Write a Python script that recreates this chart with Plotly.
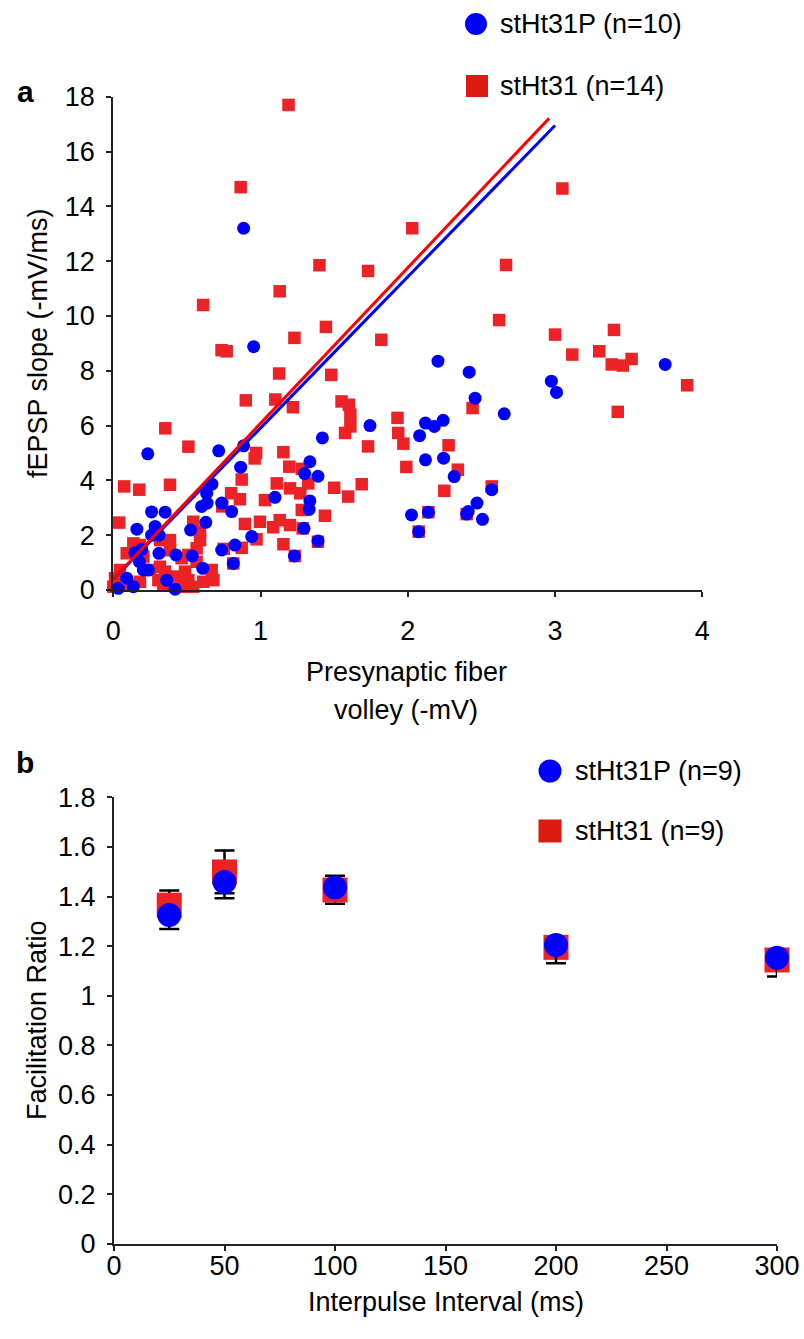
import plotly.graph_objects as go

# ---------------- Panel a data ----------------
red_pts = [(1.19,17.7),(0.865,14.7),(0.61,10.4),(0.735,8.75),(0.77,8.71),(1.13,10.9),(1.23,9.2),
(1.126,7.9),(0.90,6.92),(1.10,6.95),(1.22,6.67),(0.353,5.9),(0.51,5.23),(0.96,4.8),(0.97,5.0),
(1.155,5.03),(1.195,4.5),(1.28,4.42),(0.074,3.78),(0.176,3.66),(0.385,3.84),(0.872,4.03),(0.80,3.53),
(0.86,3.31),(0.74,3.05),(1.03,3.28),(1.11,3.89),(1.20,3.71),(1.27,3.53),(1.324,3.89),(1.28,2.92),
(0.04,2.46),(0.894,2.41),(0.996,2.49),(1.086,2.29),(1.13,2.55),(1.20,2.37),(0.973,1.85),(0.872,1.54),
(1.155,1.67),(0.815,0.97),(1.233,1.24),(0.75,1.5),(0.136,1.70),(0.091,1.34),(0.18,1.64),(0.204,1.22),
(0.317,1.82),(0.385,1.82),(0.385,1.45),(0.317,0.85),(0.351,0.67),(0.25,0.73),(0.045,0.73),(0.012,0.43),
(0.0,0.12),(0.113,0.18),(0.181,0.30),(0.306,0.36),(0.34,0.18),(0.43,0.49),(0.475,0.12),(0.543,0.12),
(0.51,0.36),(0.487,0.67),(0.464,1.16),(0.51,1.28),(0.566,1.52),(0.589,1.82),(0.589,2.13),(0.543,2.49),
(0.566,1.03),(0.668,0.73),(0.611,0.30),(0.68,0.36),(2.03,13.2),(1.40,11.85),(1.73,11.64),(1.444,9.6),
(1.82,9.13),(1.48,7.85),(1.55,6.88),(1.60,6.76),(1.61,6.4),(1.61,5.97),(1.574,5.73),(1.73,5.24),
(1.93,6.28),(1.935,5.73),(1.97,5.34),(1.99,4.49),(2.277,5.28),(2.34,4.39),(2.248,3.62),(2.44,6.64),
(1.50,3.73),(1.687,3.86),(1.595,3.41),(1.437,2.71),(1.39,1.76),(1.286,2.25),(2.14,2.84),(2.074,2.13),
(2.40,2.77),(3.05,14.65),(2.667,11.86),(2.62,9.85),(3.0,9.32),(3.40,9.49),(3.117,8.59),(3.30,8.71),
(3.385,8.23),(3.46,8.19),(3.52,8.43),(3.897,7.47),(3.426,6.5),(2.57,3.78)]
red_x = [p[0] for p in red_pts]
red_y = [p[1] for p in red_pts]

blue_pts = [(0.885,13.2),(0.953,8.88),(0.234,4.97),(0.716,5.08),(0.885,5.26),(0.865,4.48),(0.67,3.86),
(0.634,3.53),(0.60,3.05),(0.637,3.17),(0.736,3.17),(0.804,2.86),(0.26,2.85),(0.352,2.84),(0.628,2.47),
(0.16,2.22),(0.284,2.32),(0.26,2.0),(0.31,2.0),(0.525,2.19),(1.098,3.38),(0.94,1.95),(0.736,1.46),
(0.826,1.64),(0.815,0.97),(1.23,1.24),(0.193,1.48),(0.147,1.36),(0.31,1.34),(0.426,1.28),(0.536,1.24),
(0.177,1.03),(0.204,0.73),(0.238,0.73),(0.607,0.79),(0.091,0.43),(0.034,0.06),(0.136,0.12),(0.363,0.36),
(0.42,0.03),(2.205,8.35),(2.417,7.95),(2.457,7.0),(1.743,6.0),(2.12,6.09),(2.18,5.97),(2.24,6.19),
(2.08,5.63),(1.42,5.55),(2.12,4.75),(2.243,4.81),(2.315,4.14),(1.335,4.68),(1.30,4.25),(1.39,4.15),
(1.335,3.25),(1.33,2.94),(1.295,2.25),(1.39,1.79),(2.025,2.74),(2.14,2.84),(2.074,2.13),(2.40,2.77),
(2.47,3.17),(2.41,2.86),(2.507,2.58),(2.57,3.66),(2.655,6.43),(2.975,7.62),(3.01,7.21),(3.748,8.23)]
blue_x = [p[0] for p in blue_pts]
blue_y = [p[1] for p in blue_pts]

# linear fits
red_fit_x = [0.0, 2.96]
red_slope, red_icpt = 5.68, 0.40
blue_fit_x = [0.0, 3.0]
blue_slope, blue_icpt = 5.52, 0.39

# ---------------- Panel b data ----------------
ipi = [25, 50, 100, 200, 300]
red_mean = [1.365, 1.499, 1.426, 1.195, 1.144]
red_plus = [0.059, 0.086, 0.058, 0.0, 0.0]
red_minus = [0.0, 0.086, 0.055, 0.0, 0.0]
blue_mean = [1.325, 1.458, 1.436, 1.204, 1.153]
blue_plus = [0.0, 0.0, 0.0, 0.0, 0.0]
blue_minus = [0.056, 0.065, 0.0, 0.073, 0.076]

W, H = 804, 1339
FONT = "Liberation Sans, Arial, sans-serif"
FS = 27
RED = "#ec2227"
BLUE = "#0000ff"

def px(x):
    return x / W

def py(y):
    return 1 - y / H

fig = go.Figure()

fig.add_trace(go.Scatter(x=red_x, y=red_y, mode="markers", xaxis="x", yaxis="y",
                         marker=dict(symbol="square", size=12.5, color=RED, line=dict(width=0)),
                         cliponaxis=False, showlegend=False))
fig.add_trace(go.Scatter(x=blue_x, y=blue_y, mode="markers", xaxis="x", yaxis="y",
                         marker=dict(symbol="circle", size=13, color=BLUE, line=dict(width=0)),
                         cliponaxis=False, showlegend=False))
fig.add_trace(go.Scatter(x=blue_fit_x, y=[blue_icpt + blue_slope * v for v in blue_fit_x],
                         mode="lines", xaxis="x", yaxis="y", line=dict(color=BLUE, width=3),
                         cliponaxis=False, showlegend=False))
fig.add_trace(go.Scatter(x=red_fit_x, y=[red_icpt + red_slope * v for v in red_fit_x],
                         mode="lines", xaxis="x", yaxis="y", line=dict(color="#ff0000", width=3),
                         cliponaxis=False, showlegend=False))

fig.add_trace(go.Scatter(x=ipi, y=red_mean, mode="markers", xaxis="x2", yaxis="y2",
                         marker=dict(symbol="square", size=25, color=RED, line=dict(width=0)),
                         error_y=dict(type="data", symmetric=False, array=red_plus, arrayminus=red_minus,
                                      color="black", thickness=2.5, width=10),
                         cliponaxis=False, showlegend=False))
fig.add_trace(go.Scatter(x=ipi, y=blue_mean, mode="markers", xaxis="x2", yaxis="y2",
                         marker=dict(symbol="circle", size=24, color=BLUE, line=dict(width=0)),
                         error_y=dict(type="data", symmetric=False, array=blue_plus, arrayminus=blue_minus,
                                      color="black", thickness=2.5, width=10),
                         cliponaxis=False, showlegend=False))

axis_common = dict(showline=True, linecolor="#222222", linewidth=2, ticks="outside", ticklen=5,
                   tickwidth=2, tickcolor="#222222", showgrid=False, zeroline=False,
                   automargin=False,
                   tickfont=dict(family=FONT, size=FS, color="black"))

fig.update_layout(
    width=W, height=H, margin=dict(l=0, r=0, t=0, b=0, autoexpand=False),
    paper_bgcolor="white", plot_bgcolor="white",
    xaxis=dict(domain=[px(113.3), px(702.3)], range=[0, 4], tickvals=[0, 1, 2, 3, 4],
               anchor="y", ticklabelstandoff=11, **axis_common),
    yaxis=dict(domain=[py(590), py(96.7)], range=[0, 18], tickvals=list(range(0, 19, 2)),
               anchor="x", ticklabelstandoff=6, **axis_common),
    xaxis2=dict(domain=[px(114), px(777)], range=[0, 300], tickvals=[0, 50, 100, 150, 200, 250, 300],
                anchor="y2", ticklabelstandoff=-8, **axis_common),
    yaxis2=dict(domain=[py(1243.7), py(797.3)], range=[0, 1.8],
                tickvals=[0, 0.2, 0.4, 0.6, 0.8, 1, 1.2, 1.4, 1.6, 1.8],
                ticktext=["0", "0.2", "0.4", "0.6", "0.8", "1", "1.2", "1.4", "1.6", "1.8"],
                anchor="x2", ticklabelstandoff=6, **axis_common),
)

def ann(text, x, y, size=FS, angle=0, xanchor="center", bold=False):
    fig.add_annotation(text=("<b>%s</b>" % text) if bold else text, x=px(x), y=py(y),
                       xref="paper", yref="paper", showarrow=False, textangle=angle,
                       xanchor=xanchor, yanchor="middle",
                       font=dict(family=FONT, size=size, color="black"))

# axis titles
ann("fEPSP slope (-mV/ms)", 38, 343, angle=-90)
ann("Presynaptic fiber", 406, 672)
ann("volley (-mV)", 406, 710)
ann("Facilitation Ratio", 37, 1020, angle=-90)
ann("Interpulse Interval (ms)", 446, 1302)

# panel labels
ann("a", 25, 92, size=30, bold=True)
ann("b", 25, 762, size=30, bold=True)

# legends (drawn as shapes + text)
def leg_circle(cx, cy, d, color):
    fig.add_shape(type="circle", xref="paper", yref="paper",
                  x0=px(cx - d / 2), x1=px(cx + d / 2), y0=py(cy + d / 2), y1=py(cy - d / 2),
                  fillcolor=color, line=dict(width=0))

def leg_square(cx, cy, d, color):
    fig.add_shape(type="rect", xref="paper", yref="paper",
                  x0=px(cx - d / 2), x1=px(cx + d / 2), y0=py(cy + d / 2), y1=py(cy - d / 2),
                  fillcolor=color, line=dict(width=0))

leg_circle(476, 24, 22, BLUE)
ann("stHt31P (n=10)", 498, 24, xanchor="left")
leg_square(477, 86, 22, "#dd1a10")
ann("stHt31 (n=14)", 498, 86, xanchor="left")

leg_circle(550, 771, 23, BLUE)
ann("stHt31P (n=9)", 573, 771, xanchor="left")
leg_square(550, 831, 23, "#dd1a10")
ann("stHt31 (n=9)", 573, 831, xanchor="left")

fig.write_html("out.html", config={"displayModeBar": False},
               post_script="document.body.style.margin='0px';document.body.style.overflow='hidden';")
